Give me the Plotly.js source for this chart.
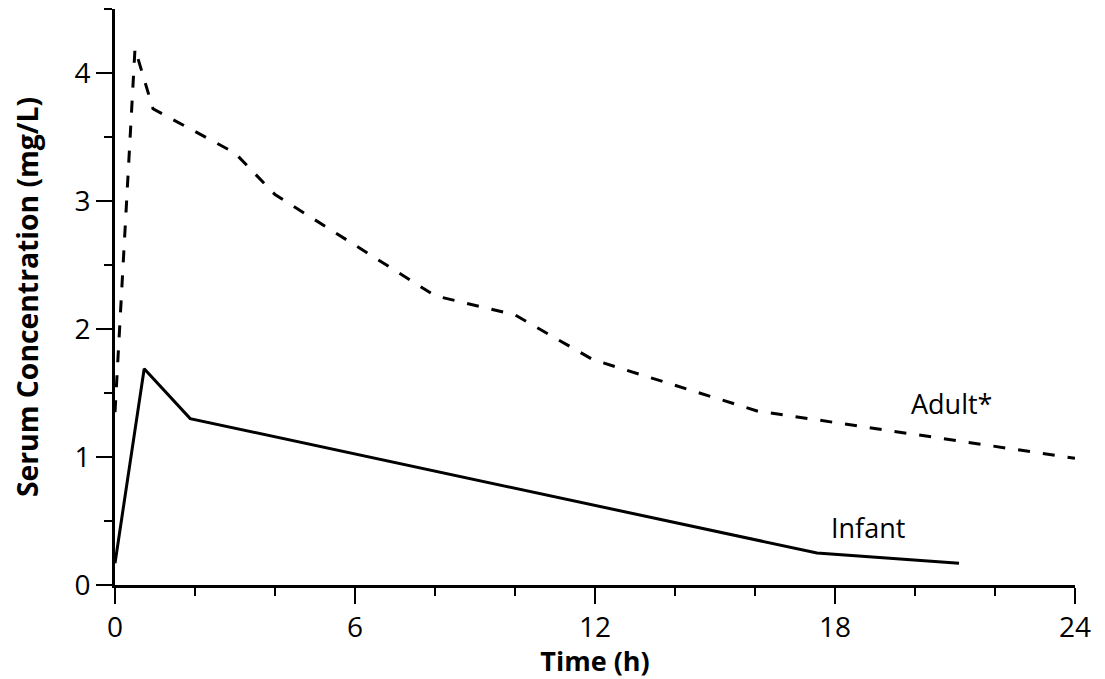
<!DOCTYPE html>
<html>
<head>
<meta charset="utf-8">
<script src="https://cdn.plot.ly/plotly-3.0.1.min.js"></script>
<style>
  html, body { margin: 0; padding: 0; background: #ffffff; }
  #chart { width: 1105px; height: 679px; }
</style>
</head>
<body>
<div id="chart"></div>
<script>
// Data
const infantTime = [0, 0.73, 1.88, 17.55, 21.1];
const infantConc = [0.17, 1.69, 1.30, 0.25, 0.17];

const adultTime = [0, 0.5, 0.95, 3.0, 4.0, 8.0, 10.0, 11.95, 16.05, 24];
const adultConc = [1.35, 4.19, 3.72, 3.375, 3.05, 2.26, 2.11, 1.76, 1.36, 0.99];

const xTickVals = [0, 6, 12, 18, 24];
const xTickText = ['0', '6', '12', '18', '24'];
const yTickVals = [0, 1, 2, 3, 4];
const yTickText = ['0', '1', '2', '3', '4'];

const FONT = '"Open Sans", "Noto Sans", sans-serif';

const traces = [
  {
    x: infantTime, y: infantConc, type: 'scatter', mode: 'lines',
    name: 'Infant',
    line: { color: '#000000', width: 3 },
    cliponaxis: false
  },
  {
    x: adultTime, y: adultConc, type: 'scatter', mode: 'lines',
    name: 'Adult*',
    line: { color: '#000000', width: 3, dash: '12px,13px' },
    cliponaxis: false
  }
];

const layout = {
  width: 1105, height: 679,
  margin: { l: 115, r: 30, t: 9, b: 94, pad: 0 },
  paper_bgcolor: '#ffffff', plot_bgcolor: '#ffffff',
  showlegend: false,
  font: { family: FONT, color: '#000000', size: 27 },
  xaxis: {
    range: [0, 24], fixedrange: true,
    showgrid: false, zeroline: false,
    showline: true, linecolor: '#000000', linewidth: 2.5,
    ticks: 'outside', ticklen: 16, tickwidth: 1.5, tickcolor: '#000000',
    tickmode: 'array', tickvals: xTickVals, ticktext: xTickText,
    tickfont: { family: FONT, size: 28, color: '#000000' },
    minor: { dtick: 2, tick0: 0, ticks: 'outside', ticklen: 8, tickwidth: 1.2, tickcolor: '#000000', showgrid: false },
    title: { text: 'Time (h)', font: { family: FONT, size: 27, color: '#000000', weight: 'bold' }, standoff: 4 },
    automargin: false
  },
  yaxis: {
    range: [0, 4.5], fixedrange: true,
    showgrid: false, zeroline: false,
    showline: true, linecolor: '#000000', linewidth: 3,
    ticks: 'outside', ticklen: 16, tickwidth: 1.5, tickcolor: '#000000',
    tickmode: 'array', tickvals: yTickVals, ticktext: yTickText,
    tickfont: { family: FONT, size: 28, color: '#000000' },
    minor: { dtick: 0.5, tick0: 0, ticks: 'outside', ticklen: 8, tickwidth: 1.2, tickcolor: '#000000', showgrid: false },
    title: { text: 'Serum Concentration (mg/L)', font: { family: FONT, size: 28.3, color: '#000000', weight: 'bold' }, standoff: 28 },
    automargin: false
  },
  annotations: [
    { x: 20.9, y: 1.42, xref: 'x', yref: 'y', text: 'Adult*', showarrow: false,
      font: { family: FONT, size: 27, color: '#000000' } },
    { x: 18.83, y: 0.45, xref: 'x', yref: 'y', text: 'Infant', showarrow: false,
      font: { family: FONT, size: 27, color: '#000000' } }
  ]
};

Plotly.newPlot('chart', traces, layout, { displayModeBar: false, staticPlot: true });
</script>
</body>
</html>
